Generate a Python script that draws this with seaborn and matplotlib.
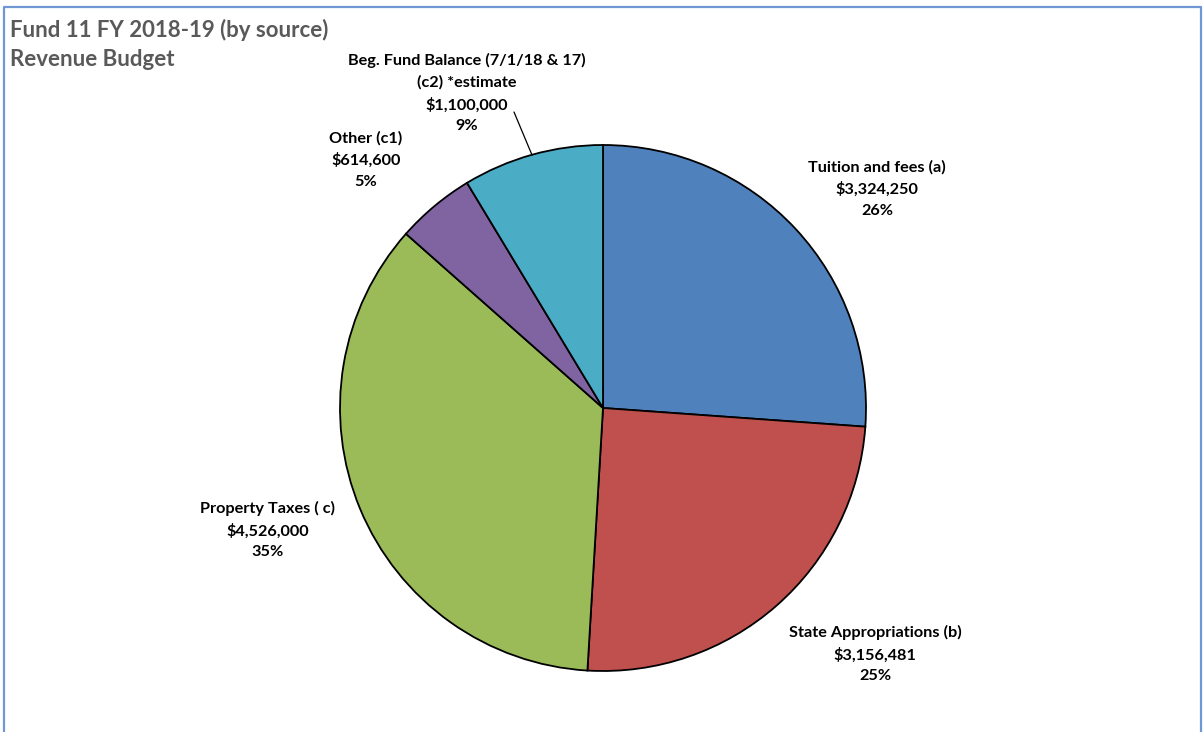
import matplotlib
matplotlib.use("Agg")
import matplotlib.pyplot as plt
from matplotlib.lines import Line2D
import seaborn as sns

# Revenue sources and budgeted amounts
categories = [
    "Tuition and fees (a)",
    "State Appropriations (b)",
    "Property Taxes ( c)",
    "Other (c1)",
    "Beg. Fund Balance (7/1/18 & 17)\n(c2) *estimate",
]
amounts = [3324250, 3156481, 4526000, 614600, 1100000]
percent_labels = ["26%", "25%", "35%", "5%", "9%"]
slice_colors = ["#4F81BD", "#C0504D", "#9BBB59", "#8064A2", "#4BACC6"]

title_lines = ["Fund 11 FY 2018-19 (by source)", "Revenue Budget"]

sns.set_theme(style="white")
plt.rcParams["font.family"] = ["Lato", "DejaVu Sans"]

W, H = 1203, 732
fig = plt.figure(figsize=(W / 100, H / 100), dpi=100)
fig.patch.set_facecolor("white")

# chart frame (open at the bottom)
frame = Line2D([4 / W, 4 / W, 1201 / W, 1201 / W],
               [0, 1 - 7 / H, 1 - 7 / H, 0],
               transform=fig.transFigure, color="#6E97D4", lw=1.6)
fig.add_artist(frame)

# pie axes: centre (603, 408) px, radius 263 px
cx, cy, r = 603, 408, 263
ax = fig.add_axes([(cx - r) / W, (H - cy - r) / H, 2 * r / W, 2 * r / H])
palette = sns.color_palette(slice_colors)
ax.pie(amounts, colors=palette, startangle=90, counterclock=False,
       wedgeprops=dict(edgecolor="black", linewidth=1.3))
ax.set_xlim(-1, 1)
ax.set_ylim(-1, 1)
ax.set_aspect("equal")
ax.axis("off")


def px(x, y):
    return x / W, 1 - y / H


# title
fig.text(*px(10, 30), title_lines[0], ha="left", va="center",
         fontsize=16, fontweight="bold", color="#595959")
fig.text(*px(10, 60), title_lines[1], ha="left", va="center",
         fontsize=16, fontweight="bold", color="#595959")

# data labels (name, amount, share)
label_pos = [(877, 189), (875, 654), (268, 530), (366, 160), (467, 93)]
for name, amt, pct, (x, y) in zip(categories, amounts, percent_labels, label_pos):
    txt = f"{name}\n${amt:,}\n{pct}"
    fig.text(*px(x, y), txt, ha="center", va="center", fontsize=11.7,
             fontweight="bold", color="black", linespacing=1.62)

# leader line for the fund balance label
leader = Line2D([514 / W, 532 / W], [1 - 112 / H, 1 - 155 / H],
                transform=fig.transFigure, color="black", lw=0.9)
fig.add_artist(leader)

fig.savefig("out.png", dpi=100, facecolor="white")
